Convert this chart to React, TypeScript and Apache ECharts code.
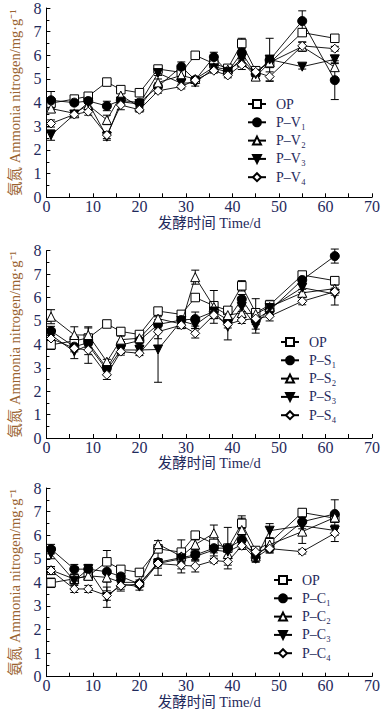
import React, { useEffect, useRef } from "react";
import * as echarts from "echarts";

// ---- data ----
const days = [1, 6, 9, 13, 16, 20, 24, 29, 32, 36, 39, 42, 45, 48, 55, 62];
const xTicks = [0, 10, 20, 30, 40, 50, 60, 70];
const yTicks = [0, 1, 2, 3, 4, 5, 6, 7, 8];

const OP = [3.98, 4.15, 4.27, 4.87, 4.55, 4.42, 5.42, 5.28, 6.0, 5.65, 5.45, 6.5, 5.35, 5.68, 6.96, 6.72];
const OPerr = [0.2, 0.1, 0.15, 0.1, 0.1, 0.1, 0.1, 0.1, 0.1, 0.1, 0.1, 0.22, 0.1, 0.2, 0.15, 0.12];

const V1 = [4.1, 4.0, 4.07, 3.86, 4.1, 4.0, 4.68, 5.52, 4.96, 5.93, 5.3, 6.11, 5.2, 5.8, 7.45, 4.95];
const V2 = [3.75, 3.55, 3.9, 3.27, 4.3, 3.83, 4.85, 5.15, 5.0, 5.5, 5.4, 5.73, 5.1, 5.7, 6.37, 5.5];
const V3 = [2.63, 3.5, 4.0, 2.56, 4.04, 3.94, 5.25, 4.82, 4.85, 5.45, 5.3, 5.87, 5.2, 5.82, 5.52, 5.83];
const V4 = [3.12, 3.5, 3.62, 2.63, 3.9, 3.7, 4.5, 4.68, 4.95, 5.35, 5.15, 5.6, 5.3, 5.1, 6.4, 6.28];
const V1err = [0.37, 0.1, 0.1, 0.2, 0.15, 0.1, 0.15, 0.2, 0.1, 0.2, 0.1, 0.25, 0.1, 0.15, 0.43, 0.82];
const V2err = [0.15, 0.1, 0.1, 0.2, 0.15, 0.1, 0.15, 0.1, 0.1, 0.1, 0.1, 0.2, 0.1, 0.2, 0.2, 0.15];
const V3err = [0.22, 0.1, 0.2, 0.15, 0.15, 0.1, 0.1, 0.1, 0.15, 0.1, 0.1, 0.2, 0.2, 0.9, 0.1, 0.15];
const V4err = [0.15, 0.1, 0.15, 0.15, 0.2, 0.1, 0.1, 0.1, 0.1, 0.1, 0.1, 0.2, 0.15, 0.2, 0.15, 0.1];

const S1 = [4.57, 3.9, 4.07, 2.98, 3.97, 4.16, 4.85, 5.04, 5.08, 5.4, 5.05, 5.93, 5.05, 5.45, 6.75, 7.77];
const S2 = [5.18, 4.4, 4.4, 3.26, 4.2, 4.26, 5.1, 4.87, 6.87, 5.6, 5.25, 5.34, 5.3, 5.6, 6.2, 6.38];
const S3 = [4.4, 3.69, 3.97, 2.9, 3.76, 3.76, 3.78, 5.0, 4.83, 5.4, 4.75, 5.6, 4.78, 5.55, 6.42, 6.15];
const S4 = [4.25, 3.83, 3.76, 2.7, 3.69, 3.62, 4.54, 4.82, 4.47, 5.25, 4.85, 5.04, 5.1, 5.2, 5.84, 6.25];
const S1err = [0.2, 0.15, 0.2, 0.15, 0.15, 0.15, 0.2, 0.15, 0.3, 0.2, 0.25, 0.2, 0.2, 0.2, 0.2, 0.3];
const S2err = [0.3, 0.35, 0.3, 0.1, 0.15, 0.15, 0.15, 0.15, 0.3, 0.7, 0.2, 0.3, 0.65, 0.2, 0.15, 0.15];
const S3err = [0.2, 0.3, 0.78, 0.2, 0.15, 0.15, 1.4, 0.15, 0.15, 0.3, 0.56, 0.2, 0.3, 0.2, 0.2, 0.47];
const S4err = [0.15, 0.15, 0.2, 0.2, 0.15, 0.1, 0.3, 0.15, 0.2, 0.15, 0.15, 0.15, 0.15, 0.2, 0.15, 0.15];

const C1 = [5.41, 4.56, 4.56, 4.45, 4.25, 3.93, 4.85, 5.05, 5.16, 5.45, 5.45, 5.8, 5.05, 5.44, 6.57, 6.9];
const C2 = [4.52, 4.14, 4.28, 4.21, 4.0, 4.0, 5.62, 5.1, 5.6, 6.08, 5.2, 6.22, 5.1, 5.6, 6.15, 6.75];
const C3 = [5.2, 4.07, 4.56, 3.37, 3.93, 3.82, 4.8, 5.0, 5.1, 5.37, 5.3, 5.6, 5.0, 6.19, 6.4, 6.2];
const C4 = [4.5, 3.72, 3.72, 3.44, 3.86, 3.93, 4.8, 4.72, 4.69, 4.92, 4.88, 5.55, 5.3, 5.43, 5.3, 6.08];
const C1err = [0.2, 0.2, 0.2, 0.9, 0.2, 0.1, 0.55, 0.2, 0.2, 0.2, 0.88, 0.2, 0.15, 0.2, 0.3, 0.6];
const C2err = [0.15, 0.15, 0.15, 0.2, 0.15, 0.1, 0.15, 0.7, 0.2, 0.35, 0.2, 0.6, 0.15, 0.2, 0.5, 0.2];
const C3err = [0.2, 0.15, 0.2, 0.43, 0.3, 0.15, 0.2, 0.2, 0.2, 0.25, 0.2, 0.2, 0.15, 0.3, 0.35, 0.2];
const C4err = [0.1, 0.15, 0.15, 0.2, 0.15, 0.1, 0.1, 0.15, 0.25, 0.1, 0.15, 0.15, 0.1, 0.15, 0.1, 0.35];

const namesV = ["OP", "P\u2013V\u2081", "P\u2013V\u2082", "P\u2013V\u2083", "P\u2013V\u2084"];
const namesS = ["OP", "P\u2013S\u2081", "P\u2013S\u2082", "P\u2013S\u2083", "P\u2013S\u2084"];
const namesC = ["OP", "P\u2013C\u2081", "P\u2013C\u2082", "P\u2013C\u2083", "P\u2013C\u2084"];

const xTitle = "发酵时间 Time/d";
const yTitle = "氨氮 Ammonia nitrogen/mg·g\u207B\u00B9";

// ---- styles ----
const FONT = "'Liberation Serif', 'Times New Roman', 'Noto Sans CJK SC', serif";
const NAVY = "#1f2a5c";
const BROWN = "#9a6330";

const markers = [
  { symbol: "rect", rotate: 0, fill: "#ffffff" },
  { symbol: "circle", rotate: 0, fill: "#000000" },
  { symbol: "triangle", rotate: 0, fill: "#ffffff" },
  { symbol: "triangle", rotate: 180, fill: "#000000" },
  { symbol: "diamond", rotate: 0, fill: "#ffffff" },
];

const panels = [
  { top: 8, height: 189.3, legendLeft: 242, legendTop: 92, names: namesV, values: [OP, V1, V2, V3, V4], errs: [OPerr, V1err, V2err, V3err, V4err] },
  { top: 250.7, height: 187.3, legendLeft: 275, legendTop: 330, names: namesS, values: [OP, S1, S2, S3, S4], errs: [OPerr, S1err, S2err, S3err, S4err] },
  { top: 488, height: 188.7, legendLeft: 268, legendTop: 568, names: namesC, values: [OP, C1, C2, C3, C4], errs: [OPerr, C1err, C2err, C3err, C4err] },
];

function errorRender(params: any, api: any) {
  const x = api.value(0);
  const lo = api.coord([x, api.value(1)]);
  const hi = api.coord([x, api.value(2)]);
  const w = 4;
  const style = { stroke: "#000", lineWidth: 1 };
  return {
    type: "group",
    children: [
      { type: "line", shape: { x1: lo[0], y1: lo[1], x2: hi[0], y2: hi[1] }, style },
      { type: "line", shape: { x1: lo[0] - w, y1: lo[1], x2: lo[0] + w, y2: lo[1] }, style },
      { type: "line", shape: { x1: hi[0] - w, y1: hi[1], x2: hi[0] + w, y2: hi[1] }, style },
    ],
  };
}

function buildOption() {
  const grid: any[] = [];
  const xAxis: any[] = [];
  const yAxis: any[] = [];
  const legend: any[] = [];
  const series: any[] = [];

  panels.forEach((p, pi) => {
    grid.push({ left: 42, width: 330, top: p.top, height: p.height, containLabel: false });
    xAxis.push({
      gridIndex: pi,
      type: "value",
      min: xTicks[0],
      max: xTicks[xTicks.length - 1],
      interval: xTicks[1] - xTicks[0],
      name: xTitle,
      nameLocation: "middle",
      nameGap: 18,
      nameTextStyle: { fontFamily: FONT, fontSize: 14.5, color: NAVY },
      axisLine: { lineStyle: { color: "#000", width: 1 } },
      axisTick: { inside: true, length: 4, lineStyle: { color: "#000" } },
      minorTick: { show: true, splitNumber: 2, length: 4, lineStyle: { color: "#000" } },
      axisLabel: { fontFamily: FONT, fontSize: 16, color: NAVY, margin: 1 },
      splitLine: { show: false },
    });
    yAxis.push({
      gridIndex: pi,
      type: "value",
      min: yTicks[0],
      max: yTicks[yTicks.length - 1],
      interval: yTicks[1] - yTicks[0],
      name: yTitle,
      nameLocation: "middle",
      nameGap: 21,
      nameTextStyle: { fontFamily: FONT, fontSize: 14.5, color: BROWN },
      axisLine: { show: true, lineStyle: { color: "#000", width: 1 } },
      axisTick: { inside: true, length: 4, lineStyle: { color: "#000" } },
      minorTick: { show: true, splitNumber: 2, length: 3, lineStyle: { color: "#000" } },
      axisLabel: { fontFamily: FONT, fontSize: 16, color: NAVY, margin: 5 },
      splitLine: { show: false },
    });
    legend.push({
      orient: "vertical",
      left: p.legendLeft,
      top: p.legendTop,
      itemWidth: 18,
      itemHeight: 10,
      itemGap: 4.3,
      data: p.names,
      selectedMode: false,
      textStyle: { fontFamily: FONT, fontSize: 14, color: NAVY, lineHeight: 14, padding: [0, 0, 0, 5] },
    });

    p.values.forEach((vals, si) => {
      const errs = p.errs[si];
      series.push({
        type: "custom",
        name: "err-" + pi + "-" + si,
        xAxisIndex: pi,
        yAxisIndex: pi,
        renderItem: errorRender,
        encode: { x: 0, y: [1, 2] },
        data: days.map((d, i) => [d, vals[i] - errs[i], vals[i] + errs[i]]),
        z: 1,
        silent: true,
      });
    });
    p.values.forEach((vals, si) => {
      const m = markers[si];
      series.push({
        type: "line",
        name: p.names[si],
        xAxisIndex: pi,
        yAxisIndex: pi,
        data: days.map((d, i) => [d, vals[i]]),
        symbol: m.symbol,
        symbolRotate: m.rotate,
        symbolSize: m.symbol === "rect" ? 8.5 : 9,
        showAllSymbol: true,
        lineStyle: { color: "#000", width: 0.9 },
        itemStyle: { color: m.fill, borderColor: "#000", borderWidth: 1, opacity: 1 },
        z: 2 + si,
      });
    });
  });

  return { animation: false, backgroundColor: "#ffffff", grid, xAxis, yAxis, legend, series };
}

export default function App() {
  const ref = useRef<HTMLDivElement>(null);
  useEffect(() => {
    if (!ref.current) return;
    const chart = echarts.init(ref.current, undefined, { renderer: "svg" });
    chart.setOption(buildOption() as any);
    return () => chart.dispose();
  }, []);
  return (
    <div
      ref={ref}
      style={{ position: "absolute", left: 0, top: 0, width: 389, height: 719, background: "#fff" }}
    />
  );
}
